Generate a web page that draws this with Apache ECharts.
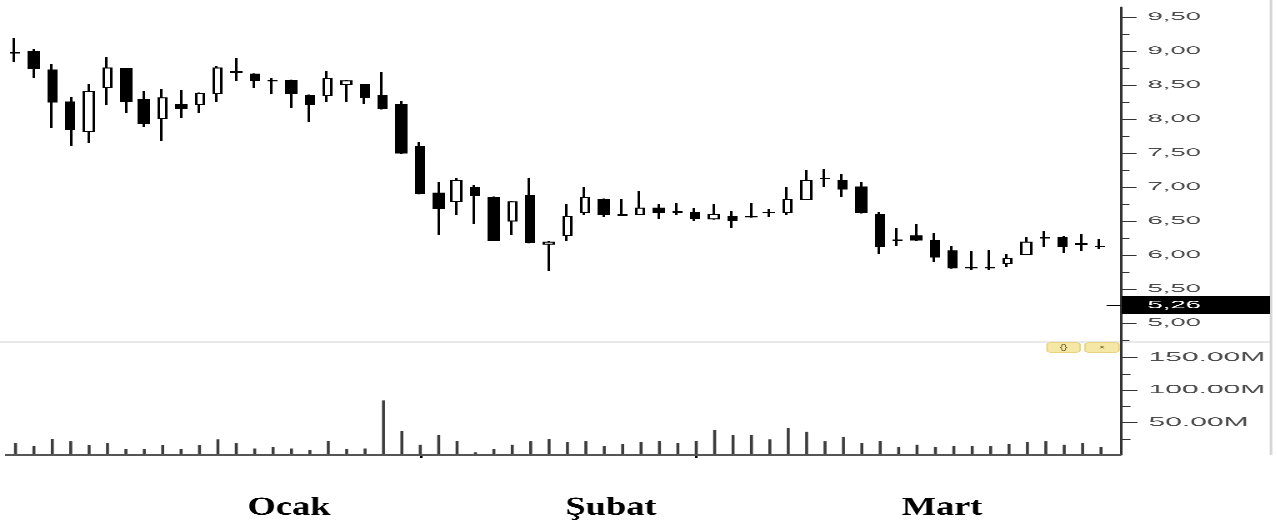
<!DOCTYPE html>
<html>
<head>
<meta charset="utf-8">
<script src="https://cdn.jsdelivr.net/npm/echarts@6/dist/echarts.min.js"></script>
<style>
  html, body { margin: 0; padding: 0; background: #fff; overflow: hidden; }
  #chart { width: 510.8px; height: 529px; transform: scaleX(2.5); transform-origin: 0 0; }
</style>
</head>
<body>
<div id="chart"></div>
<script>
// ---- data ----
const categories = ['G01','G02','G03','G04','G05','G06','G07','G08','G09','G10',
  'G11','G12','G13','G14','G15','G16','G17','G18','G19','G20',
  'G21','G22','G23','G24','G25','G26','G27','G28','G29','G30',
  'G31','G32','G33','G34','G35','G36','G37','G38','G39','G40',
  'G41','G42','G43','G44','G45','G46','G47','G48','G49','G50',
  'G51','G52','G53','G54','G55','G56','G57','G58','G59','G60'];
const openP  = [8.97,8.99,8.72,8.25,7.82,8.46,8.74,8.29,8.01,8.21,
  8.21,8.38,8.70,8.66,8.57,8.57,8.35,8.34,8.51,8.51,
  8.34,8.21,7.59,6.91,6.79,6.99,6.85,6.50,6.88,6.16,
  6.29,6.63,6.82,6.59,6.60,6.69,6.64,6.63,6.53,6.57,
  6.57,6.63,6.62,6.82,7.13,7.09,7.00,6.60,6.22,6.28,
  6.21,6.06,5.82,5.82,5.88,6.01,6.26,6.26,6.17,6.13];
const closeP = [8.98,8.74,8.25,7.84,8.40,8.75,8.26,7.93,8.31,8.15,
  8.38,8.75,8.68,8.57,8.56,8.37,8.21,8.59,8.56,8.32,
  8.15,7.50,6.90,6.68,7.09,6.88,6.21,6.78,6.18,6.19,
  6.57,6.84,6.59,6.58,6.69,6.63,6.63,6.54,6.59,6.51,
  6.56,6.62,6.82,7.09,7.12,6.97,6.62,6.13,6.21,6.22,
  5.97,5.81,5.81,5.81,5.95,6.19,6.25,6.13,6.15,6.12];
const lowP   = [8.84,8.60,7.87,7.60,7.65,8.21,8.09,7.88,7.68,8.01,
  8.09,8.25,8.56,8.46,8.37,8.16,7.96,8.25,8.25,8.22,
  8.14,7.49,6.89,6.29,6.59,6.46,6.20,6.29,6.17,5.76,
  6.21,6.59,6.56,6.57,6.59,6.53,6.59,6.50,6.52,6.40,
  6.55,6.56,6.59,6.81,7.00,6.85,6.61,6.01,6.13,6.21,
  5.90,5.80,5.78,5.78,5.82,6.00,6.12,6.03,6.06,6.09];
const highP  = [9.19,9.03,8.81,8.32,8.51,8.91,8.75,8.41,8.44,8.43,
  8.39,8.78,8.90,8.67,8.60,8.58,8.36,8.71,8.57,8.52,
  8.69,8.26,7.66,7.07,7.13,7.03,6.86,6.79,7.13,6.20,
  6.75,7.00,6.83,6.82,6.94,6.75,6.76,6.69,6.75,6.65,
  6.76,6.68,7.00,7.25,7.26,7.19,7.07,6.63,6.40,6.46,
  6.32,6.13,6.06,6.07,6.01,6.26,6.35,6.28,6.31,6.24];
const volumeM = [19,14,25,21,15,19,9,9,15,9,
  15,24,18,10,12,10,8,22,9,10,
  84,37,16,31,22,4,9,16,21,25,
  20,21,14,17,20,22,18,22,39,31,
  31,24,42,36,21,28,18,22,12,16,
  12,14,14,14,17,20,21,16,18,12];
const lastPrice = 5.26;
const priceLabelValues = [5.0,5.5,6.0,6.5,7.0,7.5,8.0,8.5,9.0,9.5];
const priceMinorValues = [4.75,5.25,5.75,6.25,6.75,7.25,7.75,8.25,8.75,9.25];
const volLabelValues = [50,100,150];
const volMinorValues = [25,75,125];
const monthTickIndex = [22, 37];
const monthLabels = ['Ocak', 'Şubat', 'Mart'];

// ---- build ----
const candleData = categories.map((c, i) => [openP[i], closeP[i], lowP[i], highP[i]]);
const K = 2.5; // horizontal stretch of the page
const S = v => v / K;

const chart = echarts.init(document.getElementById('chart'), null, { renderer: 'canvas', devicePixelRatio: 3 });
const labelFont = 'Liberation Sans, Arial, sans-serif';
const gridRight = 510.8 - S(1109.7);
const axisOffset = S(1121) - S(1109.7);

const monthX = [289, 611, 942];

chart.setOption({
  animation: false,
  backgroundColor: '#fff',
  grid: [
    { left: S(6.3), right: gridRight, top: 7, bottom: 529 - 342 },
    { left: S(6.3), right: gridRight, top: 342, bottom: 529 - 455 }
  ],
  xAxis: [
    { type: 'category', gridIndex: 0, data: categories, boundaryGap: true,
      axisLine: { show: false }, axisTick: { show: false }, axisLabel: { show: false }, splitLine: { show: false } },
    { type: 'category', gridIndex: 1, data: categories, boundaryGap: true,
      axisLine: { show: false },
      axisTick: { show: true, alignWithLabel: true, length: 3,
        interval: (i) => monthTickIndex.indexOf(i) >= 0,
        lineStyle: { color: '#000', width: 1 } },
      axisLabel: { show: false }, splitLine: { show: false } }
  ],
  yAxis: [
    { type: 'value', gridIndex: 0, position: 'right', offset: axisOffset, min: 4.72, max: 9.647, scale: true,
      axisLine: { show: true, lineStyle: { color: '#333', width: 1 } },
      axisTick: { show: true, length: 6.4, customValues: priceLabelValues, lineStyle: { color: '#333', width: 1 } },
      axisLabel: { show: true, customValues: priceLabelValues, margin: 10.8, color: '#4d4d4d',
        fontFamily: labelFont, fontSize: 11,
        formatter: v => v.toFixed(2).replace('.', ',') },
      splitLine: { show: false } },
    { type: 'value', gridIndex: 0, position: 'right', offset: axisOffset, min: 4.72, max: 9.647, scale: true,
      axisLine: { show: false },
      axisTick: { show: true, length: 3.6, customValues: priceMinorValues, lineStyle: { color: '#333', width: 1 } },
      axisLabel: { show: false }, splitLine: { show: false } },
    { type: 'value', gridIndex: 0, position: 'right', offset: axisOffset, min: 4.72, max: 9.647, scale: true,
      axisLine: { show: false },
      axisTick: { show: true, inside: true, length: S(14), customValues: [lastPrice], lineStyle: { color: '#000', width: 1 } },
      axisLabel: { show: true, customValues: [lastPrice], margin: 0.5, color: '#fff',
        backgroundColor: '#000', padding: [4, 0, 3, 10.3], width: 49, lineHeight: 11,
        fontFamily: labelFont, fontSize: 11,
        formatter: v => v.toFixed(2).replace('.', ',') },
      splitLine: { show: false } },
    { type: 'value', gridIndex: 1, position: 'right', offset: axisOffset, min: 0, max: 174,
      axisLine: { show: true, lineStyle: { color: '#333', width: 1 } },
      axisTick: { show: true, length: 6.4, customValues: volLabelValues, lineStyle: { color: '#333', width: 1 } },
      axisLabel: { show: true, customValues: volLabelValues, margin: 10.8, color: '#4d4d4d',
        fontFamily: labelFont, fontSize: 12,
        formatter: v => v.toFixed(2) + 'M' },
      splitLine: { show: false } },
    { type: 'value', gridIndex: 1, position: 'right', offset: axisOffset, min: 0, max: 174,
      axisLine: { show: false },
      axisTick: { show: true, length: 3.6, customValues: volMinorValues, lineStyle: { color: '#333', width: 1 } },
      axisLabel: { show: false }, splitLine: { show: false } }
  ],
  series: [
    { type: 'candlestick', xAxisIndex: 0, yAxisIndex: 0, data: candleData, barWidth: 3.9,
      itemStyle: { color: '#fff', color0: '#000', borderColor: '#000', borderColor0: '#000',
        borderColorDoji: '#000', borderWidth: 1 } },
    { type: 'bar', xAxisIndex: 1, yAxisIndex: 3, data: volumeM, barWidth: 1.2,
      itemStyle: { color: '#3d3d3d' } }
  ],
  graphic: [
    { type: 'line', shape: { x1: 0, y1: 342, x2: S(1271), y2: 342 }, style: { stroke: '#d4d4d4', lineWidth: 1 }, z: 0 },
    { type: 'line', shape: { x1: S(1271), y1: 0, x2: S(1271), y2: 455 }, style: { stroke: '#d4d4d4', lineWidth: 1 }, z: 0 },
    { type: 'line', shape: { x1: S(5), y1: 455, x2: S(1121), y2: 455 }, style: { stroke: '#555', lineWidth: 1.4 }, z: 10 },
    { type: 'rect', shape: { x: S(1047), y: 342.5, width: S(33), height: 10, r: 2 }, style: { fill: '#f5e8a6', stroke: '#e8d27c', lineWidth: 0.6 }, z: 10 },
    { type: 'rect', shape: { x: S(1085), y: 342.5, width: S(34), height: 10, r: 2 }, style: { fill: '#f5e8a6', stroke: '#e8d27c', lineWidth: 0.6 }, z: 10 },
    { type: 'text', x: S(1063.5), y: 347.5, scaleX: 1 / K * 1.6, z: 11,
      style: { text: '{}', font: '7px "Liberation Sans"', fill: '#6e5f2a', textAlign: 'center', textVerticalAlign: 'middle' } },
    { type: 'text', x: S(1102), y: 347.5, scaleX: 1 / K * 1.6, z: 11,
      style: { text: '×', font: '7px "Liberation Sans"', fill: '#6e5f2a', textAlign: 'center', textVerticalAlign: 'middle' } },
    ...monthLabels.map((m, i) => ({
      type: 'text', x: S(monthX[i]), y: 508, scaleX: 1.4 / K, z: 11,
      style: { text: m, font: 'bold 26px "Liberation Serif", "Times New Roman", serif', fill: '#000',
        textAlign: 'center', textVerticalAlign: 'middle' }
    }))
  ]
});
</script>
</body>
</html>
